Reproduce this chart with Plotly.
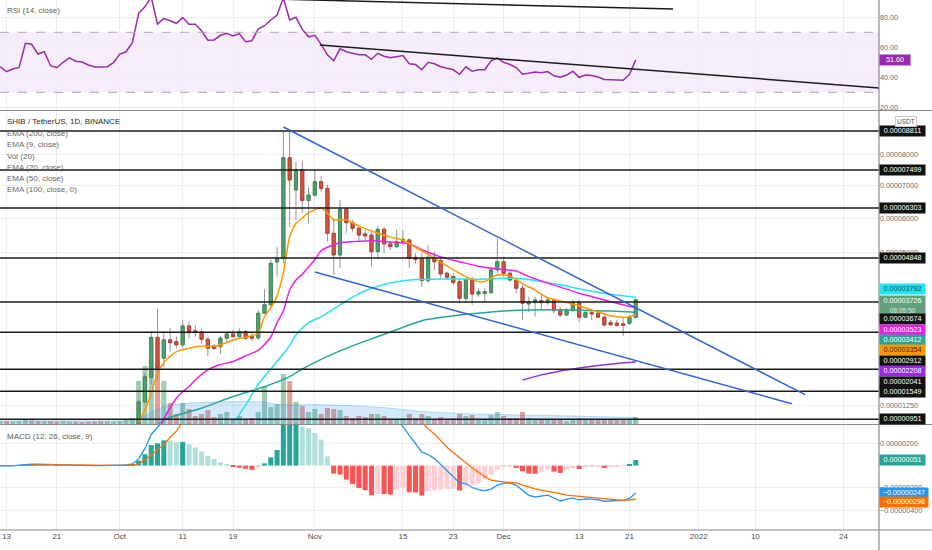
import math
import pandas as pd
import plotly.graph_objects as go

# ---------------- DATA (price-like values in units of 1e-8 USDT) ----------------
dates = pd.date_range("2021-09-12", "2021-12-22", freq="D")

open_ = [730, 740, 705, 720, 730, 800, 795, 770, 780, 720, 712, 735, 755, 740, 738, 728, 718, 715, 718,
         735, 770, 785, 840, 1320, 1860, 2790, 2300, 2730, 2690, 2610, 3070, 2950, 2920, 2746, 2585, 2570,
         2770, 2874, 2810, 2930, 2810, 2780, 3385, 3600, 4740, 4840, 7900, 6860, 7500, 6530,
         6700, 7120, 6910, 5550, 4933, 6265, 5862, 5697, 5530, 5500, 5025, 5667, 5244, 5167, 5310, 5358,
         4867, 4840, 4232, 4867, 4774, 4430, 4340, 4205, 3768, 4268, 3880, 3897, 3913, 4519,
         4746, 4430, 4232, 4030, 3622, 3655, 3706, 3655, 3706, 3469, 3343, 3451, 3655, 3285, 3400, 3385,
         3285, 3150, 3140, 3120, 3135, 3285]
high = [755, 745, 730, 740, 830, 820, 800, 790, 785, 740, 745, 765, 760, 748, 745, 740, 728, 726, 742,
        785, 800, 855, 1380, 1950, 2930, 3500, 2930, 3012, 2810, 3218, 3175, 3095, 2990, 2810, 2633, 2825,
        2930, 2971, 3012, 2971, 2895, 3469, 4000, 4800, 5150, 8800, 8850, 7770, 7800, 6963,
        7499, 7300, 7016, 5942, 6548, 6325, 5942, 5765, 5647, 5597, 5765, 5745, 5330, 5647, 5647, 5405,
        4980, 4980, 5215, 5026, 4840, 4474, 4430, 4295, 4295, 4340, 4030, 4030, 4565, 5405,
        4885, 4474, 4295, 4117, 3810, 3810, 3897, 3776, 3767, 3537, 3520, 3724, 3724, 3443, 3469, 3426,
        3343, 3218, 3218, 3260, 3343, 3767]
low = [720, 690, 700, 712, 725, 780, 760, 760, 700, 690, 705, 728, 715, 728, 712, 712, 705, 708, 714,
       730, 765, 780, 830, 1290, 1700, 1800, 2097, 2452, 2530, 2530, 2770, 2810, 2650, 2350, 2491, 2397,
       2650, 2770, 2770, 2729, 2705, 2729, 3370, 3550, 4350, 4700, 5740, 5942, 6160, 5843,
       6640, 6806, 5310, 4385, 4565, 5550, 5597, 5280, 5310, 4610, 4840, 4980, 5073, 5120, 5215, 4565,
       4703, 4072, 4160, 4519, 4295, 4250, 4117, 3640, 3681, 3597, 3810, 3681, 3897, 4437,
       4340, 4205, 3897, 3218, 3419, 3300, 3469, 3597, 3385, 3285, 3330, 3426, 3175, 3268, 3218, 3268,
       3052, 3070, 3052, 2825, 3093, 3260]
close = [740, 705, 720, 730, 800, 795, 770, 780, 720, 712, 735, 755, 740, 738, 728, 718, 715, 718, 735,
         770, 785, 840, 1320, 1870, 2790, 2070, 2730, 2665, 2610, 3070, 2906, 2910, 2746, 2530, 2530, 2770,
         2874, 2810, 2930, 2770, 2770, 3385, 3600, 4700, 4840, 7900, 7175, 7500, 6530, 6700,
         7120, 6910, 5550, 4933, 6265, 5862, 5697, 5500, 5475, 5025, 5667, 5244, 5167, 5310, 5378, 4840,
         4812, 4232, 4867, 4746, 4412, 4322, 4180, 3768, 4268, 3880, 3940, 3940, 4519, 4746,
         4430, 4250, 4030, 3640, 3681, 3724, 3655, 3724, 3451, 3343, 3469, 3655, 3285, 3400, 3367, 3285,
         3093, 3100, 3085, 3085, 3285, 3726]
volume = [300, 300, 250, 300, 400, 350, 300, 300, 300, 250, 300, 250, 250, 200, 250, 250, 300, 300, 250,
          300, 400, 600, 4300, 5800, 6500, 6300, 4300, 2100, 1000, 2100, 1500, 800, 1000, 1400, 700, 1000,
          1200, 500, 800, 400, 600, 1200, 3800, 1700, 2000, 5000, 4300, 2200, 1800, 1200,
          1500, 1000, 1600, 1500, 1400, 800, 600, 800, 700, 1000, 1000, 800, 500, 500, 600, 1000,
          600, 1000, 800, 500, 700, 500, 600, 1000, 800, 900, 400, 400, 900, 1200,
          800, 600, 600, 1200, 600, 500, 500, 400, 500, 500, 300, 400, 600, 400, 500, 400,
          500, 400, 400, 500, 500, 700]

vol_ma_dates = ["2021-09-12", "2021-10-03", "2021-10-05", "2021-10-07", "2021-10-09", "2021-10-12",
                "2021-10-16", "2021-10-20", "2021-10-24", "2021-10-26", "2021-10-28", "2021-11-01",
                "2021-11-06", "2021-11-12", "2021-11-18", "2021-11-24", "2021-11-30", "2021-12-06",
                "2021-12-12", "2021-12-18", "2021-12-22"]
vol_ma = [300, 300, 800, 1500, 1900, 2100, 2200, 2250, 2200, 1950, 1900, 1950, 1850, 1650, 1250, 1050,
          950, 900, 800, 700, 650]

ema9_dates = ["2021-10-04", "2021-10-05", "2021-10-06", "2021-10-07", "2021-10-08", "2021-10-10",
              "2021-10-12", "2021-10-14", "2021-10-15", "2021-10-17", "2021-10-19", "2021-10-21",
              "2021-10-23", "2021-10-24", "2021-10-25", "2021-10-26", "2021-10-27", "2021-10-28",
              "2021-10-29", "2021-10-30", "2021-10-31", "2021-11-01", "2021-11-02", "2021-11-03",
              "2021-11-04", "2021-11-06", "2021-11-08", "2021-11-11", "2021-11-13", "2021-11-15",
              "2021-11-17", "2021-11-19", "2021-11-20", "2021-11-23", "2021-11-25", "2021-11-27",
              "2021-11-28", "2021-11-30", "2021-12-02", "2021-12-04", "2021-12-06", "2021-12-08",
              "2021-12-11", "2021-12-13", "2021-12-16", "2021-12-18", "2021-12-20", "2021-12-21",
              "2021-12-22"]
ema9 = [880, 1150, 1500, 1950, 2200, 2450, 2530, 2585, 2570, 2610, 2729, 2795, 2890, 3300, 3520, 3830,
        4450, 5450, 5843, 6000, 6160, 6250, 6313, 6143, 5950, 5942, 5760, 5550, 5440, 5350, 5150, 4950,
        4840, 4519, 4340, 4205, 4210, 4385, 4360, 4150, 3980, 3780, 3660, 3571, 3420, 3320, 3285, 3300,
        3354]

ema20_dates = ["2021-10-07", "2021-10-08", "2021-10-09", "2021-10-10", "2021-10-11", "2021-10-12",
               "2021-10-13", "2021-10-15", "2021-10-17", "2021-10-19", "2021-10-21", "2021-10-23",
               "2021-10-24", "2021-10-25", "2021-10-26", "2021-10-27", "2021-10-28", "2021-10-29",
               "2021-10-30", "2021-10-31", "2021-11-01", "2021-11-02", "2021-11-03", "2021-11-05",
               "2021-11-08", "2021-11-10", "2021-11-13", "2021-11-16", "2021-11-18", "2021-11-21",
               "2021-11-24", "2021-11-27", "2021-11-30", "2021-12-03", "2021-12-05", "2021-12-07",
               "2021-12-10", "2021-12-13", "2021-12-16", "2021-12-19", "2021-12-21", "2021-12-22"]
ema20 = [700, 950, 1200, 1400, 1540, 1650, 1800, 2030, 2150, 2220, 2350, 2480, 2620, 2800, 3150, 3450,
         3985, 4250, 4400, 4600, 4800, 5050, 5150, 5280, 5320, 5338, 5300, 5250, 5080, 4880, 4746, 4620,
         4546, 4490, 4340, 4220, 4060, 3897, 3770, 3640, 3560, 3523]

ema50_dates = ["2021-10-19", "2021-10-21", "2021-10-23", "2021-10-25", "2021-10-27", "2021-10-28",
               "2021-10-29", "2021-10-31", "2021-11-02", "2021-11-05", "2021-11-08", "2021-11-11",
               "2021-11-14", "2021-11-17", "2021-11-22", "2021-11-27", "2021-12-01", "2021-12-04",
               "2021-12-07", "2021-12-10", "2021-12-14", "2021-12-18", "2021-12-22"]
ema50 = [860, 1250, 1700, 2050, 2400, 2600, 2850, 3150, 3300, 3600, 3890, 4080, 4200, 4260, 4277, 4268,
         4295, 4280, 4205, 4120, 3985, 3870, 3792]

ema100_dates = ["2021-10-06", "2021-10-08", "2021-10-14", "2021-10-19", "2021-10-24", "2021-10-28",
                "2021-10-30", "2021-11-01", "2021-11-05", "2021-11-09", "2021-11-13", "2021-11-18",
                "2021-11-24", "2021-11-30", "2021-12-05", "2021-12-12", "2021-12-18", "2021-12-22"]
ema100 = [700, 939, 1185, 1435, 1652, 1875, 2044, 2200, 2470, 2700, 2920, 3200, 3340, 3430, 3469, 3470,
          3440, 3412]

ema200_dates = ["2021-12-04", "2021-12-07", "2021-12-10", "2021-12-13", "2021-12-16", "2021-12-19",
                "2021-12-22"]
ema200 = [1802, 1915, 2005, 2073, 2130, 2176, 2208]

rsi = [47.1, 43.7, 45.5, 46.6, 62.7, 62.0, 55.5, 57.0, 47.7, 46.4, 50.0, 53.0, 50.7, 50.2, 48.2, 46.9,
       46.8, 47.1, 49.7,
       55.5, 57.0, 63.1, 82.7, 87.0, 93.5, 75.5, 79.3, 77.7, 76.0, 79.8, 75.3, 75.3, 71.0, 64.7, 64.9,
       68.0, 69.3, 67.5, 69.1, 63.7, 64.4, 72.2, 74.4, 78.2, 81.5, 93.0, 78.2, 80.0, 72.0, 67.0,
       68, 62, 55, 51, 59, 57, 56, 55, 55, 52, 56, 54, 53, 54, 54.5, 49, 48.5, 45, 50, 49, 47, 46, 45,
       42, 47, 44, 45, 45, 51, 53,
       50, 48.5, 46.5, 42, 42.5, 43.5, 43, 43.8, 41, 40, 41.5, 44, 40, 41.5, 41.2, 40.2, 38.5, 38.2, 38,
       38, 42, 51.6]

macd = [-3, -4, -2, 5, 12, 14, 12, 10, 7, 5, 4, 3, 2, 1, 0, -1, -1, 0, 2,
        4, 7, 15, 60, 152, 280, 345, 415, 478, 520, 605, 625, 628, 620, 605, 590, 575, 565, 545, 535,
        526, 516, 539, 575, 642, 730, 1050, 1250, 1400, 1362, 1417,
        1427, 1403, 1263, 1093, 1067, 994, 920, 839, 768, 664, 616, 546, 470, 410, 350, 270, 190, 121,
        100, 63, 10, -44, -94, -156, -161, -197, -216, -226, -211, -176,
        -159, -156, -177, -226, -267, -282, -274, -266, -291, -318, -302, -293, -308, -299, -302, -307,
        -321, -316, -314, -314, -295, -247]
signal = [0, -1, -1, 0, 2, 4, 6, 7, 7, 7, 6, 5, 4, 4, 3, 2, 1, 1, 1,
          2, 3, 5, 16, 50, 95, 145, 188, 255, 310, 392, 432, 465, 493, 516, 530, 546, 550, 554, 555,
          555, 554, 554, 555, 568, 590, 682, 796, 917, 1010, 1080,
          1135, 1170, 1180, 1165, 1148, 1120, 1085, 1040, 990, 930, 870, 800, 730, 625, 551, 510, 430,
          390, 330, 285, 225, 165, 115, 68, 25, -20, -60, -100, -130, -140,
          -147, -150, -156, -175, -195, -210, -220, -230, -237, -252, -266, -272, -278, -284, -290, -295,
          -300, -304, -308, -311, -310, -298]
hist = [-3, -3, -1, 5, 10, 10, 6, 3, 0, -2, -2, -2, -2, -3, -3, -3, -2, -1, 1,
        2, 4, 10, 44, 102, 185, 200, 227, 223, 210, 213, 193, 163, 127, 89, 60, 29, 15, -9, -20, -29,
        -38, -15, 20, 74, 140, 368, 454, 483, 352, 337,
        292, 233, 83, -72, -81, -126, -165, -201, -222, -266, -254, -256, -260, -215, -201, -240, -242,
        -269, -230, -222, -215, -209, -209, -224, -186, -177, -156, -126, -81, -36,
        -12, -6, -21, -51, -72, -73, -54, -36, -54, -66, -36, -21, -30, -15, -12, -12, -21, -12, -6,
        -3, 15, 51]

hline_levels = [8811, 7499, 6303, 4848, 3674, 2912, 2041, 1549, 951]
wedge_upper_dates = ["2021-10-27 00:00", "2022-01-17 22:00"]
wedge_upper = [8951, 1476]
wedge_lower_dates = ["2021-11-01 00:00", "2022-01-15 19:00"]
wedge_lower = [4466, 1281]
rsi_line1_dates = ["2021-10-27 00:00", "2021-12-27 22:00"]
rsi_line1 = [92.0, 85.5]
rsi_line2_dates = ["2021-11-01 19:00", "2022-01-30 00:00"]
rsi_line2 = [61.5, 32.8]

price_ticks = [1250, 5000, 6000, 7000, 8000]
rsi_ticks = [20, 40, 60, 80]
macd_ticks = [200, -200, -400]
x_tick_dates = ["2021-09-13", "2021-09-21", "2021-10-01", "2021-10-11", "2021-10-19", "2021-11-01",
                "2021-11-15", "2021-11-23", "2021-12-01", "2021-12-13", "2021-12-21", "2022-01-01",
                "2022-01-10", "2022-01-24"]
x_tick_labels = ["13", "21", "Oct", "11", "19", "Nov", "15", "23", "Dec", "13", "21", "2022", "10", "24"]
countdown = "08:05:50"

# ---------------- helpers / styling ----------------
E8 = 1e-8
OFFSET = 10738          # offset of the screenshot's compressed price scale (1e-8 units)
X0, X1 = "2021-09-11 23:15", "2022-01-29 15:36"
PH, PW = 530.0, 879.0   # plot area size in px
FONT = "Liberation Sans, Arial, sans-serif"

GREEN, RED = "#53a06c", "#d35541"
C_EMA9, C_EMA20, C_EMA50, C_EMA100, C_EMA200 = "#ff9800", "#ea1fe6", "#28e1ee", "#26a69a", "#9c27e6"
C_RSI = "#9b2ba8"
C_MACD, C_SIG = "#2196f3", "#ff6d00"
GRID = "#ededed"


def P(v):
    return (v + OFFSET) * E8


def ypx(px):
    return 1 - px / PH


def fmt(v):
    s = f"{abs(v) * E8:.8f}"
    return ("\u2212" if v < 0 else "") + s


fig = go.Figure()

# volume + its MA (base axis of the main pane)
vol_colors = ["rgba(83,160,108,0.55)" if c >= o else "rgba(205,82,62,0.55)" for o, c in zip(open_, close)]
fig.add_trace(go.Bar(x=dates, y=volume, marker=dict(color=vol_colors, line=dict(width=0)),
                     xaxis="x", yaxis="y2", hoverinfo="skip"))
fig.add_trace(go.Scatter(x=vol_ma_dates, y=vol_ma, mode="lines", fill="tozeroy",
                         fillcolor="rgba(33,150,243,0.20)", line=dict(color="rgba(33,150,243,0.30)", width=1),
                         xaxis="x", yaxis="y2", hoverinfo="skip"))

# candles: gray wicks, then coloured bodies
fig.add_trace(go.Candlestick(
    x=dates, open=[P(v) for v in open_], high=[P(v) for v in high], low=[P(v) for v in low],
    close=[P(v) for v in close], whiskerwidth=0,
    increasing=dict(line=dict(color="#949494", width=1), fillcolor="#949494"),
    decreasing=dict(line=dict(color="#949494", width=1), fillcolor="#949494"),
    xaxis="x", yaxis="y4", hoverinfo="skip"))
fig.add_trace(go.Candlestick(
    x=dates, open=[P(v) for v in open_], close=[P(v) for v in close],
    high=[P(max(o, c)) for o, c in zip(open_, close)], low=[P(min(o, c)) for o, c in zip(open_, close)],
    whiskerwidth=0,
    increasing=dict(line=dict(color="#3f8a58", width=1), fillcolor=GREEN),
    decreasing=dict(line=dict(color="#b5412f", width=1), fillcolor=RED),
    xaxis="x", yaxis="y4", hoverinfo="skip"))

# EMAs
for d, v, c in [(ema100_dates, ema100, C_EMA100), (ema50_dates, ema50, C_EMA50), (ema20_dates, ema20, C_EMA20),
                (ema9_dates, ema9, C_EMA9), (ema200_dates, ema200, C_EMA200)]:
    fig.add_trace(go.Scatter(x=d, y=[P(x) for x in v], mode="lines",
                             line=dict(color=c, width=1.5, shape="spline", smoothing=0.6),
                             xaxis="x", yaxis="y4", hoverinfo="skip"))

# horizontal levels
for lv in hline_levels:
    fig.add_trace(go.Scatter(x=[X0, X1], y=[P(lv), P(lv)], mode="lines",
                             line=dict(color="#1b1b1b", width=1.5), xaxis="x", yaxis="y4", hoverinfo="skip"))

# wedge lines
for d, v in [(wedge_upper_dates, wedge_upper), (wedge_lower_dates, wedge_lower)]:
    fig.add_trace(go.Scatter(x=d, y=[P(x) for x in v], mode="lines",
                             line=dict(color="#2f63d6", width=1.5), xaxis="x", yaxis="y4", hoverinfo="skip"))

# RSI
fig.add_trace(go.Scatter(x=dates, y=rsi, mode="lines", line=dict(color=C_RSI, width=1.5),
                         xaxis="x", yaxis="y", hoverinfo="skip"))
for d, v in [(rsi_line1_dates, rsi_line1), (rsi_line2_dates, rsi_line2)]:
    fig.add_trace(go.Scatter(x=d, y=v, mode="lines", line=dict(color="#1b1b1b", width=1.5),
                             xaxis="x", yaxis="y", hoverinfo="skip"))

# MACD
hcols = []
for k, h in enumerate(hist):
    prev = hist[k - 1] if k > 0 else 0
    if h >= 0:
        hcols.append("#26a69a" if h >= prev else "#b2dfdb")
    else:
        hcols.append("#ff5252" if h < prev else "#ffcdd2")
fig.add_trace(go.Bar(x=dates, y=[h * E8 for h in hist], marker=dict(color=hcols, line=dict(width=0)),
                     xaxis="x", yaxis="y3", hoverinfo="skip"))
fig.add_trace(go.Scatter(x=dates, y=[m * E8 for m in macd], mode="lines", line=dict(color=C_MACD, width=1.3),
                         xaxis="x", yaxis="y3", hoverinfo="skip"))
fig.add_trace(go.Scatter(x=dates, y=[s * E8 for s in signal], mode="lines", line=dict(color=C_SIG, width=1.3),
                         xaxis="x", yaxis="y3", hoverinfo="skip"))

tickfont = dict(family=FONT, size=7.2, color="#6b6b6b")
fig.update_layout(
    width=932, height=550, margin=dict(l=0, r=53, t=0, b=20, autoexpand=False),
    paper_bgcolor="white", plot_bgcolor="white", showlegend=False,
    font=dict(family=FONT, size=8, color="#555"),
    xaxis=dict(type="date", range=[X0, X1], anchor="y3", tickvals=x_tick_dates, ticktext=x_tick_labels,
               showgrid=True, gridcolor=GRID, gridwidth=1, ticks="", zeroline=False, showline=False,
               automargin=False, rangeslider=dict(visible=False),
               tickfont=dict(family=FONT, size=8, color="#4a4a4a")),
    yaxis=dict(domain=[ypx(110), 1], range=[18.2, 91.53], side="right", anchor="x", automargin=False,
               tickvals=rsi_ticks, ticktext=[f"{t:.2f}" for t in rsi_ticks], showgrid=True, gridcolor=GRID,
               zeroline=False, ticks="", tickfont=tickfont),
    yaxis2=dict(domain=[ypx(424), ypx(111)], range=[0, 31300], visible=False, anchor="x", fixedrange=True),
    yaxis4=dict(overlaying="y2", type="log", anchor="x", side="right", automargin=False,
                range=[math.log10(P(854)), math.log10(P(9520))],
                tickvals=[P(t) for t in price_ticks], ticktext=[fmt(t) for t in price_ticks],
                showgrid=True, gridcolor=GRID, zeroline=False, ticks="", tickfont=tickfont),
    yaxis3=dict(domain=[0, ypx(425)], range=[-579 * E8, 365 * E8], side="right", anchor="x", automargin=False,
                tickvals=[t * E8 for t in macd_ticks], ticktext=[fmt(t) for t in macd_ticks],
                showgrid=True, gridcolor=GRID, zeroline=False, ticks="", tickfont=tickfont),
)

# RSI band and pane borders
shapes = [
    dict(type="rect", xref="paper", x0=0, x1=1, yref="y", y0=30, y1=70,
         fillcolor="rgba(150,60,200,0.09)", line=dict(width=0), layer="below"),
    dict(type="line", xref="paper", x0=0, x1=1, yref="y", y0=70, y1=70,
         line=dict(color="#a9a9a9", width=1, dash="dash")),
    dict(type="line", xref="paper", x0=0, x1=1, yref="y", y0=30, y1=30,
         line=dict(color="#a9a9a9", width=1, dash="dash")),
]
for ysep in (110.5, 424.5, 530):
    shapes.append(dict(type="line", xref="paper", x0=0, x1=932 / PW, yref="paper", y0=ypx(ysep), y1=ypx(ysep),
                       line=dict(color="#8a8a8a", width=1.2)))
shapes.append(dict(type="line", xref="paper", x0=1, x1=1, yref="paper", y0=ypx(550), y1=1,
                   line=dict(color="#8a8a8a", width=1.2)))
fig.update_layout(shapes=shapes)

ann = []


def legend(text, y_px, color="#5b5b5b", size=8):
    ann.append(dict(text=text, x=5 / PW, xref="paper", xanchor="left", y=ypx(y_px), yref="paper",
                    yanchor="middle", showarrow=False, font=dict(family=FONT, size=size, color=color)))


legend("RSI (14, close)", 11)
legend("SHIB / TetherUS, 1D, BINANCE", 122, color="#2a2a2a")
for k, t in enumerate(["EMA (200, close)", "EMA (9, close)", "Vol (20)", "EMA (20, close)",
                       "EMA (50, close)", "EMA (100, close, 0)"]):
    legend(t, 133.5 + k * 11.3, color="#666")
legend("MACD (12, 26, close, 9)", 436)


def label(text, y, yref, bg, fg="white", h=9.5, w=45):
    ann.append(dict(text=text, x=1, xref="paper", xanchor="left", y=y, yref=yref, yanchor="middle",
                    showarrow=False, bgcolor=bg, width=w, height=h, align="center", borderpad=0,
                    font=dict(family=FONT, size=7.2, color=fg)))


def LOGP(v):
    return math.log10(P(v))


# RSI value
label(f"{rsi[-1]:.2f}", rsi[-1], "y", "#9c27b0", w=30)
# exact-position level labels
for lv in (8811, 7499, 6303, 4848, 951):
    label(fmt(lv), LOGP(lv), "y4", "#111111")
# stacked labels (displaced by the chart to avoid overlap)
label(fmt(ema50[-1]), ypx(289), "paper", "#22e3f0", fg="#124a5c")
label(fmt(close[-1]) + f"<br><span style='font-size:6.5px;color:#dcefe2'>{countdown}</span>",
      ypx(305), "paper", "#62a07a", h=18)
label(fmt(3674), ypx(319), "paper", "#111111")
label(fmt(ema20[-1]), ypx(329.5), "paper", "#ea1fe6")
label(fmt(ema100[-1]), ypx(340), "paper", "#26a69a")
label(fmt(ema9[-1]), ypx(350.3), "paper", "#ff9800", fg="#3a2200")
label(fmt(2912), ypx(361), "paper", "#111111")
label(fmt(ema200[-1]), ypx(371.3), "paper", "#9c27e6")
label(fmt(2041), ypx(381.7), "paper", "#111111")
label(fmt(1549), ypx(392), "paper", "#111111")
# MACD pane
label(fmt(hist[-1]), hist[-1] * E8, "y3", "#26a69a")
label(fmt(macd[-1]), macd[-1] * E8, "y3", C_MACD, w=48)
label(fmt(signal[-1]), ypx(502.3), "paper", C_SIG, w=48)
# currency badge
ann.append(dict(text="USDT", x=906 / PW, xref="paper", xanchor="center", y=ypx(121.5), yref="paper",
                yanchor="middle", showarrow=False, bgcolor="white", bordercolor="#c8c8c8", borderwidth=1,
                borderpad=1, font=dict(family=FONT, size=6.5, color="#555")))
fig.update_layout(annotations=ann)

fig.write_html("out.html", config={"displayModeBar": False},
               post_script="document.body.style.margin='0';document.body.style.overflow='hidden';")
